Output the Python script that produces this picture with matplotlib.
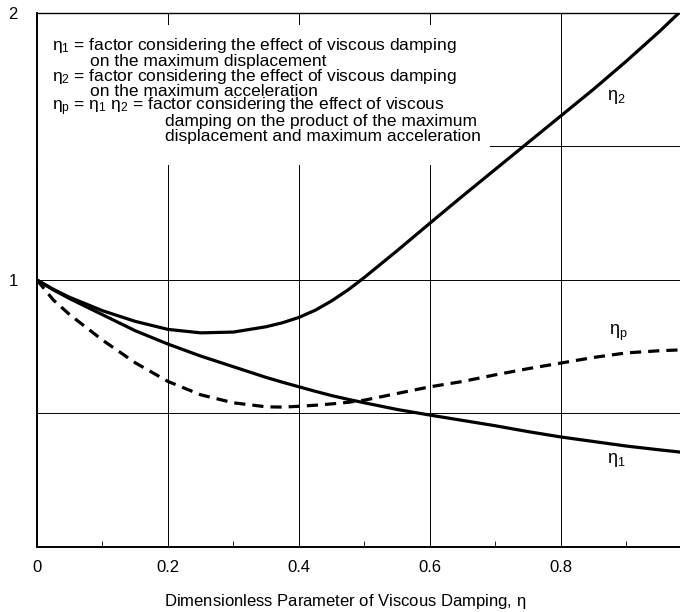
import matplotlib.pyplot as plt
from matplotlib.patches import Rectangle
from matplotlib.ticker import MultipleLocator

plt.rcParams['font.family'] = ['Liberation Sans', 'DejaVu Sans']
plt.rcParams['mathtext.fontset'] = 'custom'
plt.rcParams['mathtext.rm'] = 'Liberation Sans'
plt.rcParams['mathtext.it'] = 'Liberation Sans'

# values
eta = [0, 0.025, 0.05, 0.1, 0.15, 0.2, 0.25, 0.3, 0.35, 0.375, 0.4, 0.425, 0.45, 0.475, 0.5,
       0.55, 0.6, 0.65, 0.7, 0.75, 0.8, 0.85, 0.9, 0.95, 0.98]
eta2 = [1.0, 0.965, 0.935, 0.885, 0.845, 0.815, 0.802, 0.805, 0.825, 0.84, 0.86, 0.887, 0.922, 0.963, 1.01,
        1.11, 1.213, 1.315, 1.415, 1.515, 1.615, 1.715, 1.82, 1.93, 2.0]
eta1 = [1.0, 0.963, 0.93, 0.87, 0.81, 0.76, 0.715, 0.675, 0.635, 0.617, 0.60, 0.583, 0.567, 0.553, 0.54,
        0.515, 0.494, 0.474, 0.454, 0.432, 0.412, 0.395, 0.378, 0.364, 0.356]
etap = [1.0, 0.925, 0.87, 0.775, 0.69, 0.62, 0.57, 0.54, 0.525, 0.524, 0.527, 0.531, 0.536, 0.542, 0.55,
        0.575, 0.60, 0.62, 0.645, 0.668, 0.689, 0.71, 0.727, 0.735, 0.738]

xticks = [0, 0.2, 0.4, 0.6, 0.8]
xticklabels = ['0', '0.2', '0.4', '0.6', '0.8']

fig = plt.figure(figsize=(6.8, 6.12), dpi=100)
ax = fig.add_axes([0.0544, 0.1062, 0.9456, 0.8726])

ax.plot(eta, eta2, color='black', lw=2.3, zorder=3)
ax.plot(eta, eta1, color='black', lw=2.3, zorder=3)
ax.plot(eta, etap, color='black', lw=2.3, ls=(0, (3.5, 2.2)), zorder=3)

ax.set_xlim(0, 0.9817)
ax.set_ylim(0, 2)
ax.set_xticks(xticks)
ax.set_xticklabels(xticklabels)
ax.set_yticks([0.5, 1, 1.5, 2])
ax.set_yticklabels(['', '1', '', '2'])
ax.xaxis.set_minor_locator(MultipleLocator(0.1))
ax.tick_params(axis='both', which='major', length=0, labelsize=12, pad=9)
ax.tick_params(axis='x', which='minor', direction='in', length=4, width=0.6)
ax.tick_params(axis='y', which='major', pad=14)
ax.grid(True, which='major', color='black', lw=0.7)
ax.set_axisbelow(True)

ax.spines['right'].set_visible(False)
ax.spines['top'].set_linewidth(1.0)
for s in ['left', 'bottom']:
    ax.spines[s].set_linewidth(1.4)

ax.set_xlabel('Dimensionless Parameter of Viscous Damping, $\\mathregular{\\eta}$', fontsize=12)
ax.xaxis.set_label_coords(0.479, -0.085)

# white panel behind the definitions
ax.add_patch(Rectangle((0.0, 1.43), 0.692, 0.525, facecolor='white', edgecolor='none', zorder=1.5))

fs = 12.5
lines = [
    (0.023, 1.88, '$\\mathregular{\\eta_1}$ = factor considering the effect of viscous damping'),
    (0.081, 1.82, 'on the maximum displacement'),
    (0.023, 1.763, '$\\mathregular{\\eta_2}$ = factor considering the effect of viscous damping'),
    (0.081, 1.705, 'on the maximum acceleration'),
    (0.023, 1.648, '$\\mathregular{\\eta_p}$ = $\\mathregular{\\eta_1}$ $\\mathregular{\\eta_2}$ = factor considering the effect of viscous'),
    (0.195, 1.593, 'damping on the product of the maximum'),
    (0.195, 1.538, 'displacement and maximum acceleration'),
]
for x, y, s in lines:
    ax.text(x, y, s, fontsize=fs, va='center', ha='left', zorder=2, linespacing=1.0)

ax.text(0.885, 1.685, '$\\mathregular{\\eta_2}$', fontsize=13, ha='center', va='center')
ax.text(0.887, 0.80, '$\\mathregular{\\eta_p}$', fontsize=13, ha='center', va='center')
ax.text(0.885, 0.326, '$\\mathregular{\\eta_1}$', fontsize=13, ha='center', va='center')

fig.savefig('out.png', dpi=100)
